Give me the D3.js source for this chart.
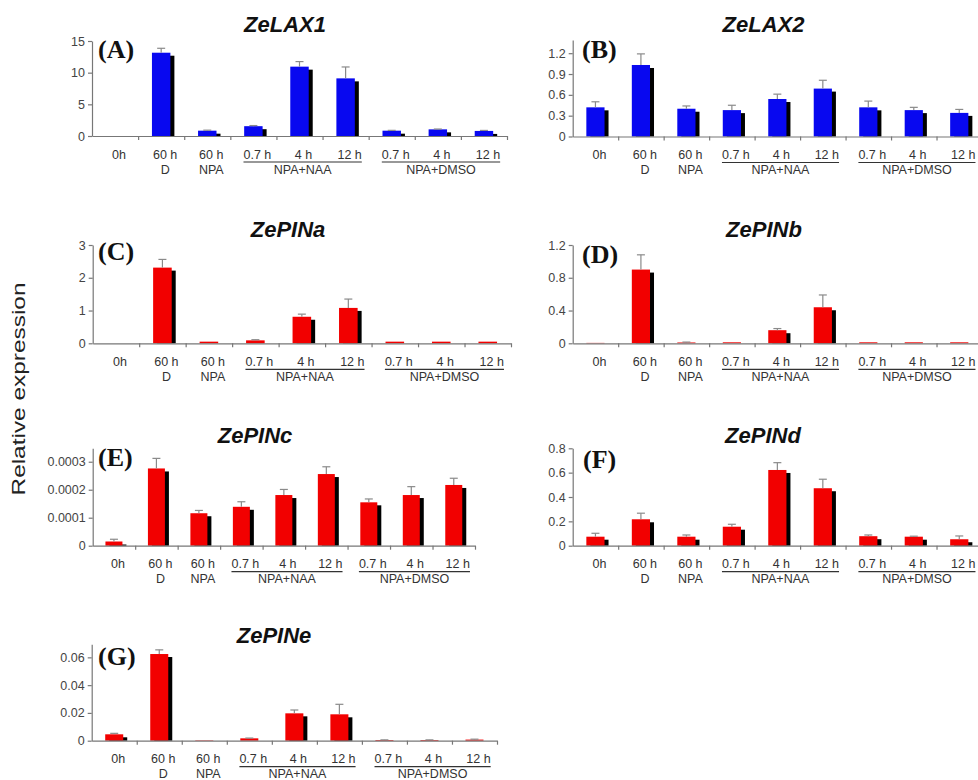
<!DOCTYPE html>
<html><head><meta charset="utf-8">
<script src="https://cdn.jsdelivr.net/npm/d3@7"></script>
<style>
html,body{margin:0;padding:0;background:#fff;}
svg{display:block;}
</style></head>
<body>
<svg id="chart" width="978" height="780"></svg>
<script>
// ---------- DATA ----------
const categories = ["0h","60 h","60 h","0.7 h","4 h","12 h","0.7 h","4 h","12 h"];
const subLabels  = ["","D","NPA","","","","","",""];
const groupLabels = ["NPA+NAA","NPA+DMSO"];
const groupRanges = [[3,5],[6,8]];

const genes = ["ZeLAX1","ZeLAX2","ZePINa","ZePINb","ZePINc","ZePINd","ZePINe"];
const panelLetters = ["(A)","(B)","(C)","(D)","(E)","(F)","(G)"];

const zeLAX1Values = [0, 13.15, 0.84, 1.55, 10.95, 9.1, 0.84, 1.05, 0.8];
const zeLAX1Errors = [0, 0.7, 0.08, 0.1, 0.8, 1.8, 0.05, 0.05, 0.08];
const zeLAX2Values = [0.42, 1.03, 0.40, 0.38, 0.54, 0.69, 0.42, 0.38, 0.34];
const zeLAX2Errors = [0.08, 0.16, 0.04, 0.07, 0.07, 0.12, 0.09, 0.04, 0.05];
const zePINaValues = [0, 2.31, 0.05, 0.09, 0.81, 1.08, 0.05, 0.05, 0.05];
const zePINaErrors = [0, 0.25, 0, 0.02, 0.08, 0.27, 0, 0, 0];
const zePINbValues = [0.005, 0.90, 0.01, 0.012, 0.16, 0.44, 0.012, 0.012, 0.012];
const zePINbErrors = [0, 0.18, 0.005, 0, 0.02, 0.15, 0, 0, 0];
const zePINcValues = [0.000015, 0.000276, 0.000116, 0.000139, 0.000181, 0.000256, 0.000155, 0.000181, 0.000217];
const zePINcErrors = [0.000008, 0.000036, 0.00001, 0.000018, 0.00002, 0.000026, 0.000012, 0.00003, 0.000024];
const zePINdValues = [0.074, 0.217, 0.074, 0.156, 0.622, 0.472, 0.078, 0.074, 0.053];
const zePINdErrors = [0.028, 0.05, 0.014, 0.02, 0.06, 0.074, 0.01, 0.004, 0.027];
const zePINeValues = [0.0046, 0.0624, 0.0003, 0.0017, 0.0197, 0.019, 0.0005, 0.0005, 0.0008];
const zePINeErrors = [0.0007, 0.003, 0, 0.0002, 0.0024, 0.0072, 0.0001, 0.0001, 0.0003];

const tickValuesA = [0,5,10,15],            tickLabelsA = ["0","5","10","15"];
const tickValuesB = [0,0.3,0.6,0.9,1.2],    tickLabelsB = ["0","0.3","0.6","0.9","1.2"];
const tickValuesC = [0,1,2,3],              tickLabelsC = ["0","1","2","3"];
const tickValuesD = [0,0.4,0.8,1.2],        tickLabelsD = ["0","0.4","0.8","1.2"];
const tickValuesE = [0,0.0001,0.0002,0.0003], tickLabelsE = ["0","0.0001","0.0002","0.0003"];
const tickValuesF = [0,0.2,0.4,0.6,0.8],    tickLabelsF = ["0","0.2","0.4","0.6","0.8"];
const tickValuesG = [0,0.02,0.04,0.06],     tickLabelsG = ["0","0.02","0.04","0.06"];

const yAxisTitle = "Relative expression";

// ---------- LAYOUT ----------
const blue = "#0808f0", red = "#f20000";
const panels = [
  {values:zeLAX1Values, errors:zeLAX1Errors, ticks:tickValuesA, tlabels:tickLabelsA, color:blue,
   xL:92, xR:507, y0:136, yTop:41, ymax:15, titleX:285, titleY:32, letX:98, letY:58},
  {values:zeLAX2Values, errors:zeLAX2Errors, ticks:tickValuesB, tlabels:tickLabelsB, color:blue,
   xL:572.7, xR:982, y0:136.5, yTop:40, ymax:1.39, titleX:763.5, titleY:32, letX:582, letY:58},
  {values:zePINaValues, errors:zePINaErrors, ticks:tickValuesC, tlabels:tickLabelsC, color:red,
   xL:92.7, xR:511, y0:343.3, yTop:245, ymax:3, titleX:288, titleY:237, letX:98, letY:260},
  {values:zePINbValues, errors:zePINbErrors, ticks:tickValuesD, tlabels:tickLabelsD, color:red,
   xL:572.7, xR:982, y0:343.3, yTop:245, ymax:1.2, titleX:764, titleY:237, letX:582, letY:263},
  {values:zePINcValues, errors:zePINcErrors, ticks:tickValuesE, tlabels:tickLabelsE, color:red,
   xL:92.7, xR:475, y0:545.7, yTop:448.3, ymax:0.000348, titleX:255, titleY:443, letX:98, letY:466},
  {values:zePINdValues, errors:zePINdErrors, ticks:tickValuesF, tlabels:tickLabelsF, color:red,
   xL:572.7, xR:982, y0:545.7, yTop:448.3, ymax:0.8, titleX:763, titleY:443, letX:583, letY:468},
  {values:zePINeValues, errors:zePINeErrors, ticks:tickValuesG, tlabels:tickLabelsG, color:red,
   xL:91.7, xR:497, y0:740.7, yTop:644.3, ymax:0.0694, titleX:274, titleY:643, letX:98, letY:665}
];

const svg = d3.select("#chart");
const sans = "'Liberation Sans', Arial, sans-serif";
const serif = "'Liberation Serif', 'Times New Roman', serif";

panels.forEach((p, pi) => {
  const g = svg.append("g");
  const x = d3.scaleBand().domain(d3.range(categories.length)).range([p.xL, p.xR]).padding(0);
  const step = x.step();
  const bw = step * 0.4;
  const y = d3.scaleLinear().domain([0, p.ymax]).range([p.y0, p.yTop]);
  const data = p.values.map((v, i) => ({i, v, e: p.errors[i]}));

  // shadow
  g.selectAll("rect.sh").data(data).join("rect").attr("class","sh")
    .attr("x", d => x(d.i) + (step - bw)/2 + 4)
    .attr("y", d => Math.min(y(d.v) + 3, p.y0))
    .attr("width", bw)
    .attr("height", d => Math.max(0, p.y0 - Math.min(y(d.v) + 3, p.y0)))
    .attr("fill", "#000");
  // bars
  g.selectAll("rect.bar").data(data).join("rect").attr("class","bar")
    .attr("x", d => x(d.i) + (step - bw)/2)
    .attr("y", d => y(d.v))
    .attr("width", bw)
    .attr("height", d => p.y0 - y(d.v))
    .attr("fill", p.color);
  // error bars
  const eb = data.filter(d => d.e > 0 && d.v > 0);
  g.selectAll("line.ev").data(eb).join("line").attr("class","ev")
    .attr("x1", d => x(d.i) + step/2).attr("x2", d => x(d.i) + step/2)
    .attr("y1", d => y(d.v)).attr("y2", d => y(d.v + d.e))
    .attr("stroke", "#8a8a8a").attr("stroke-width", 1.2);
  g.selectAll("line.ec").data(eb).join("line").attr("class","ec")
    .attr("x1", d => x(d.i) + step/2 - 4).attr("x2", d => x(d.i) + step/2 + 4)
    .attr("y1", d => y(d.v + d.e)).attr("y2", d => y(d.v + d.e))
    .attr("stroke", "#8a8a8a").attr("stroke-width", 1.2);

  // y axis
  const ya = g.append("g").attr("transform", `translate(${p.xL},0)`)
    .call(d3.axisLeft(y).tickValues(p.ticks).tickFormat((d, i) => p.tlabels[i]).tickSize(4).tickSizeOuter(0).tickPadding(3));
  ya.select(".domain").attr("stroke", "#777").attr("stroke-width", 1.2);
  ya.selectAll(".tick line").attr("stroke", "#777").attr("stroke-width", 1.2);
  ya.selectAll(".tick text").attr("font-family", sans).attr("font-size", 12.5).attr("fill", "#444");

  // x axis (category boundary ticks)
  const xl = d3.scaleLinear().domain([0, categories.length]).range([p.xL, p.xR]);
  const xa = g.append("g").attr("transform", `translate(0,${p.y0})`)
    .call(d3.axisBottom(xl).tickValues(d3.range(1, categories.length + 1)).tickFormat("").tickSize(4).tickSizeOuter(0));
  xa.select(".domain").attr("stroke", "#777").attr("stroke-width", 1.2);
  xa.selectAll(".tick line").attr("stroke", "#777").attr("stroke-width", 1.2);

  // category labels
  const labs = g.selectAll("text.cat").data(categories).join("text").attr("class","cat")
    .attr("x", (d, i) => x(i) + step/2 + 4)
    .attr("y", p.y0 + 22.5)
    .attr("text-anchor", "middle")
    .attr("font-family", sans).attr("font-size", 12.5).attr("fill", "#333")
    .text(d => d);
  g.selectAll("text.sub").data(subLabels).join("text").attr("class","sub")
    .attr("x", (d, i) => x(i) + step/2 + 4)
    .attr("y", p.y0 + 37.5)
    .attr("text-anchor", "middle")
    .attr("font-family", sans).attr("font-size", 12.5).attr("fill", "#333")
    .text(d => d);

  // group underlines
  const nodes = labs.nodes();
  groupRanges.forEach((r, gi) => {
    const b1 = nodes[r[0]].getBBox(), b2 = nodes[r[1]].getBBox();
    const x1 = b1.x, x2 = b2.x + b2.width;
    g.append("line").attr("x1", x1).attr("x2", x2)
      .attr("y1", p.y0 + 26).attr("y2", p.y0 + 26)
      .attr("stroke", "#333").attr("stroke-width", 1.2);
    g.append("text").attr("x", (x1 + x2)/2).attr("y", p.y0 + 37.5)
      .attr("text-anchor", "middle").attr("font-family", sans).attr("font-size", 12.5).attr("fill", "#333")
      .text(groupLabels[gi]);
  });

  // title
  g.append("text").attr("x", p.titleX).attr("y", p.titleY).attr("text-anchor", "middle")
    .attr("font-family", sans).attr("font-size", 22).attr("font-weight", "bold").attr("font-style", "italic")
    .attr("fill", "#111").text(genes[pi]);
  // panel letter
  g.append("text").attr("x", p.letX).attr("y", p.letY)
    .attr("font-family", serif).attr("font-size", 26).attr("font-weight", "bold").attr("fill", "#111")
    .text(panelLetters[pi]);
});

// y axis title
svg.append("text").attr("transform", "translate(25,389) rotate(-90)")
  .attr("text-anchor", "middle").attr("font-family", sans).attr("font-size", 19)
  .attr("textLength", 213).attr("lengthAdjust", "spacingAndGlyphs")
  .attr("fill", "#222").text(yAxisTitle);
</script>
</body></html>
